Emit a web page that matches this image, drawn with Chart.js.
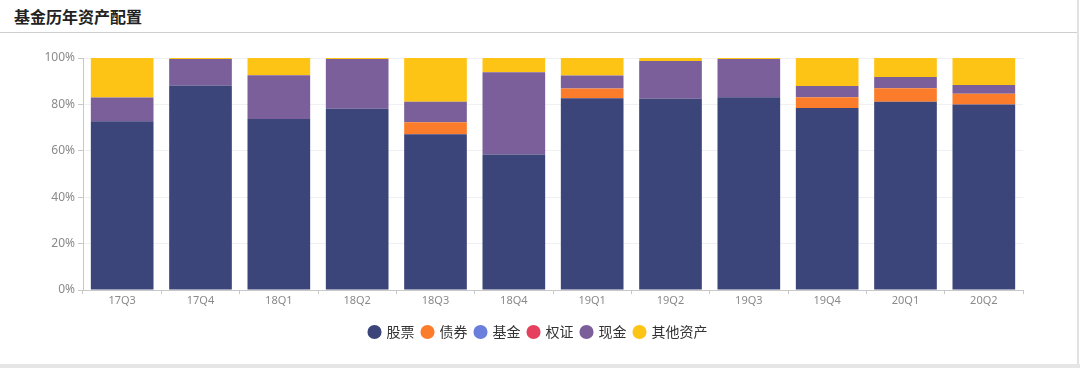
<!DOCTYPE html>
<html><head><meta charset="utf-8">
<script src="https://cdn.jsdelivr.net/npm/chart.js@4"></script>
<style>
html,body{margin:0;padding:0;background:#fff;width:1080px;height:368px;overflow:hidden;font-family:"Noto Sans CJK SC","Noto Sans",sans-serif;}
#title{position:absolute;left:14px;top:4px;font-size:16px;font-weight:bold;color:#222;}
#hr{position:absolute;left:0;top:32px;width:1077px;height:1px;background:#cfcfcf;}
#vr{position:absolute;left:1077px;top:0;width:2px;height:368px;background:#e2e2e2;}
#bot{position:absolute;left:0;top:364px;width:1080px;height:4px;background:#e6e6e6;}
#wrap{position:absolute;left:0;top:34px;width:1077px;height:330px;}
</style></head>
<body>
<div id="title">基金历年资产配置</div>
<div id="hr"></div><div id="vr"></div><div id="bot"></div>
<div id="wrap"><canvas id="c"></canvas></div>
<script>
const categories = ["17Q3","17Q4","18Q1","18Q2","18Q3","18Q4","19Q1","19Q2","19Q3","19Q4","20Q1","20Q2"];
const seriesNames = ["股票","债券","基金","权证","现金","其他资产"];
const stocks   = [72.7, 88.2, 73.7, 78.1, 67.1, 58.4, 82.7, 82.4, 83.1, 78.4, 81.1, 80.0];
const bonds    = [0, 0, 0, 0, 5.2, 0, 4.2, 0, 0, 4.7, 5.9, 4.6];
const funds    = [0, 0, 0, 0, 0, 0, 0, 0, 0, 0, 0, 0];
const warrants = [0, 0, 0, 0, 0, 0, 0, 0, 0, 0, 0, 0];
const cash     = [10.3, 11.4, 18.9, 21.5, 8.8, 35.5, 5.6, 16.3, 16.5, 4.8, 4.8, 3.8];
const others   = [17.0, 0.4, 7.4, 0.4, 18.9, 6.1, 7.5, 1.3, 0.4, 12.1, 8.2, 11.6];
const yTicks   = [0, 20, 40, 60, 80, 100];

const colors = ["#3b4579","#fb7d2b","#6a7fdc","#e6405f","#7b5f9b","#fdc315"];
const values = [stocks, bonds, funds, warrants, cash, others];

new Chart(document.getElementById('c'), {
  type: 'bar',
  data: {
    labels: categories,
    datasets: seriesNames.map((n, i) => ({
      label: n, data: values[i], backgroundColor: colors[i], borderWidth: 0,
      barPercentage: 0.8, categoryPercentage: 1.0
    }))
  },
  options: {
    responsive: true, maintainAspectRatio: false, animation: false,
    layout: { padding: { left: 0, right: 0, top: 24, bottom: 15 } },
    plugins: {
      legend: {
        position: 'bottom',
        labels: {
          usePointStyle: true, pointStyle: 'circle', boxWidth: 10, boxHeight: 10,
          color: '#333', font: { size: 14, family: '"Noto Sans CJK SC"' }, padding: 8
        }
      },
      tooltip: { enabled: false }
    },
    scales: {
      x: {
        stacked: true,
        grid: { display: true, drawOnChartArea: false, drawTicks: true, tickLength: 4, color: '#c8c8c8', offset: true },
        border: { display: true, color: '#c8c8c8' },
        ticks: { color: '#8a8a8a', font: { size: 11, family: '"Noto Sans"' }, padding: 0 },
        afterFit: s => { s.height = 27; }
      },
      y: {
        stacked: true, min: 0, max: 100,
        afterBuildTicks: s => { s.ticks = yTicks.map(v => ({ value: v })); },
        grid: { color: '#eef0f4', tickColor: '#c8c8c8', tickLength: 5, drawTicks: true },
        border: { display: true, color: '#c8c8c8' },
        ticks: { color: '#8a8a8a', font: { size: 12, family: '"Noto Sans"' }, padding: 3, callback: v => v + '%' },
        afterFit: s => { s.width = 83; }
      },
      yRight: {
        position: 'right', display: true,
        grid: { display: false, drawTicks: false }, border: { display: false },
        ticks: { display: false },
        afterFit: s => { s.width = 54; }
      }
    }
  }
});
</script>
</body></html>
